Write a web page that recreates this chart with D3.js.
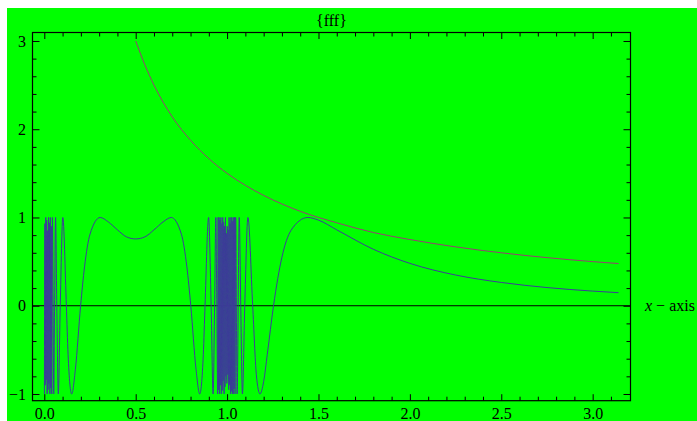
<!DOCTYPE html>
<html>
<head>
<meta charset="utf-8">
<script src="https://cdn.jsdelivr.net/npm/d3@7"></script>
<style>
  body { margin: 0; background: #fff; }
  text { font-family: "Liberation Serif", "Times New Roman", serif; }
</style>
</head>
<body>
<div id="chart"></div>
<script>
// title and axis label
const chartTitle = "{fff}";
const axisLabel = "axis";

// tick values for the frame
const xMajor = [0, 0.5, 1.0, 1.5, 2.0, 2.5, 3.0];
const xMinor = [0.1, 0.2, 0.3, 0.4, 0.6, 0.7, 0.8, 0.9, 1.1, 1.2, 1.3, 1.4, 1.6, 1.7, 1.8, 1.9,
                2.1, 2.2, 2.3, 2.4, 2.6, 2.7, 2.8, 2.9, 3.1];
const yMajor = [-1, 0, 1, 2, 3];
const yMinor = [-0.8, -0.6, -0.4, -0.2, 0.2, 0.4, 0.6, 0.8, 1.2, 1.4, 1.6, 1.8,
                2.2, 2.4, 2.6, 2.8];

// blue curve: the fast wiggles near 0
const blueDenseLeft = [
  [0.0005, -1], [0.0030, 0.93], [0.0055, -0.9], [0.0080, 1], [0.0105, -0.84],
  [0.0130, 0.97], [0.0155, -1], [0.0180, 0.85], [0.0205, -0.95], [0.0230, 1],
  [0.0255, -0.88], [0.0280, 0.94], [0.0305, -1], [0.0330, 1], [0.0355, -0.93],
  [0.0380, 0.9], [0.0405, -1]
];
// blue curve between the two dense bands
const blueMiddle = [
  [0.0444, 1], [0.0480, 0], [0.0516, -1], [0.0562, 0], [0.0617, 1], [0.0683, 0],
  [0.0766, -1], [0.0872, 0], [0.1012, 1], [0.1207, 0], [0.13, -0.55], [0.1497, -1],
  [0.17, -0.72], [0.1986, 0], [0.22, 0.44], [0.25, 0.81], [0.3056, 1], [0.35, 0.95],
  [0.40, 0.86], [0.45, 0.78], [0.50, 0.757], [0.55, 0.78], [0.60, 0.86], [0.65, 0.95],
  [0.6944, 1], [0.75, 0.81], [0.78, 0.44], [0.8014, 0], [0.83, -0.72], [0.8503, -1],
  [0.87, -0.55], [0.8793, 0], [0.8988, 1], [0.9128, 0], [0.9234, -1], [0.9317, 0],
  [0.9383, 1], [0.9438, 0], [0.9484, -1]
];
// fast wiggles around 1
const blueDenseRight = [
  [0.9510, 1], [0.9535, -0.95], [0.9560, 1], [0.9585, -1], [0.9610, 0.97],
  [0.9635, -0.9], [0.9660, 1], [0.9685, -1], [0.9710, 0.93], [0.9735, -0.96],
  [0.9760, 1], [0.9785, -0.85], [0.9810, 0.95], [0.9835, -1], [0.9860, 0.9],
  [0.9885, -0.92], [0.9910, 1], [0.9935, -0.8], [0.9960, 0.82], [0.9985, -0.88],
  [1.0010, 0.9], [1.0035, -0.78], [1.0060, 0.86], [1.0085, -0.95], [1.0110, 1],
  [1.0135, -0.9], [1.0160, 0.93], [1.0185, -1], [1.0210, 1], [1.0235, -0.97],
  [1.0260, 1], [1.0285, -1], [1.0310, 0.96], [1.0335, -1], [1.0360, 1],
  [1.0385, -0.94], [1.0410, 1], [1.0435, -1]
];
// slow part to the right of 1
const blueTail = [
  [1.0468, 1], [1.0549, -1], [1.0664, 1], [1.0748, 0], [1.0839, -1], [1.0967, 0],
  [1.114, 1], [1.14, 0], [1.16, -0.78], [1.18, -1], [1.20, -0.86], [1.22, -0.55],
  [1.254, 0], [1.30, 0.55], [1.35, 0.855], [1.4416, 1], [1.50, 0.97], [1.60, 0.86],
  [1.80, 0.64], [2.00, 0.48], [2.25, 0.348], [2.50, 0.264], [2.75, 0.206],
  [3.00, 0.166], [3.1416, 0.148]
];
// magenta curve
const magentaCurve = [
  [0.50, 3.0], [0.55, 2.73], [0.60, 2.5], [0.70, 2.14], [0.80, 1.875], [0.90, 1.667],
  [1.00, 1.5], [1.10, 1.364], [1.20, 1.25], [1.40, 1.07], [1.60, 0.94], [1.80, 0.83],
  [2.00, 0.75], [2.25, 0.667], [2.50, 0.6], [2.75, 0.545], [3.00, 0.5], [3.1416, 0.478]
];

const width = 697;
const height = 421;
const frame = { left: 32.5, right: 630.5, top: 32.5, bottom: 400.7 };

const svg = d3.select("#chart")
  .append("svg")
  .attr("width", width)
  .attr("height", height);

// green background (leaves a thin white strip top and left)
svg.append("rect")
  .attr("x", 7).attr("y", 8)
  .attr("width", width - 7).attr("height", height - 8)
  .attr("fill", "#00ff00");

const x = d3.scaleLinear().domain([-0.0646, 3.207]).range([frame.left, frame.right]);
const y = d3.scaleLinear().domain([-1.076, 3.096]).range([frame.bottom, frame.top]);

// clip curves to the frame
svg.append("clipPath").attr("id", "clip")
  .append("rect")
  .attr("x", frame.left).attr("y", frame.top)
  .attr("width", frame.right - frame.left).attr("height", frame.bottom - frame.top);

const plot = svg.append("g").attr("clip-path", "url(#clip)");

// horizontal axis line at y = 0
plot.append("line")
  .attr("x1", frame.left).attr("x2", frame.right)
  .attr("y1", y(0)).attr("y2", y(0))
  .attr("stroke", "#000").attr("stroke-width", 1);

const line = d3.line()
  .x(d => x(d[0]))
  .y(d => y(d[1]))
  .curve(d3.curveMonotoneX);

const blueCurve = blueDenseLeft.concat(blueMiddle, blueDenseRight, blueTail);

plot.append("path")
  .datum(blueCurve)
  .attr("d", line)
  .attr("fill", "none")
  .attr("stroke", "#3d3d99")
  .attr("stroke-width", 1);

plot.append("path")
  .datum(magentaCurve)
  .attr("d", line)
  .attr("fill", "none")
  .attr("stroke", "#993d74")
  .attr("stroke-width", 1);

// frame ticks (pointing inward) on all four sides
function tickAxis(axis, tx, ty, values, size, fmt, pad) {
  const g = svg.append("g")
    .attr("transform", `translate(${tx},${ty})`)
    .call(axis.tickValues(values).tickSize(-size).tickPadding(pad || 3)
      .tickFormat(fmt || (() => "")));
  g.select(".domain").remove();
  g.selectAll("line").attr("stroke", "#000");
  g.selectAll("text")
    .attr("fill", "#000")
    .style("font-family", '"Liberation Serif", serif')
    .style("font-size", "16px");
  return g;
}

// bottom labels sit right at the lower edge, as in the reference
tickAxis(d3.axisBottom(x), 0, frame.bottom, xMajor, 6.5, d3.format(".1f"), 6.5);
tickAxis(d3.axisBottom(x), 0, frame.bottom, xMinor, 4);
tickAxis(d3.axisTop(x), 0, frame.top, xMajor, 6.5);
tickAxis(d3.axisTop(x), 0, frame.top, xMinor, 4);
tickAxis(d3.axisLeft(y), frame.left, 0, yMajor, 7, d3.format("d"), 6.5);
tickAxis(d3.axisLeft(y), frame.left, 0, yMinor, 4);
tickAxis(d3.axisRight(y), frame.right, 0, yMajor, 7);
tickAxis(d3.axisRight(y), frame.right, 0, yMinor, 4);

// frame border
svg.append("rect")
  .attr("x", frame.left).attr("y", frame.top)
  .attr("width", frame.right - frame.left)
  .attr("height", frame.bottom - frame.top)
  .attr("fill", "none")
  .attr("stroke", "#000")
  .attr("stroke-width", 1.2);

// title
svg.append("text")
  .attr("x", (frame.left + frame.right) / 2)
  .attr("y", 26)
  .attr("text-anchor", "middle")
  .style("font-size", "16px")
  .text(chartTitle);

// axis label at the right end of the y = 0 line
const lab = svg.append("text")
  .attr("x", 645)
  .attr("y", y(0))
  .attr("dy", "0.35em")
  .style("font-size", "16px");
lab.append("tspan").style("font-style", "italic").text("x");
lab.append("tspan").text(" \u2212 " + axisLabel);
</script>
</body>
</html>
